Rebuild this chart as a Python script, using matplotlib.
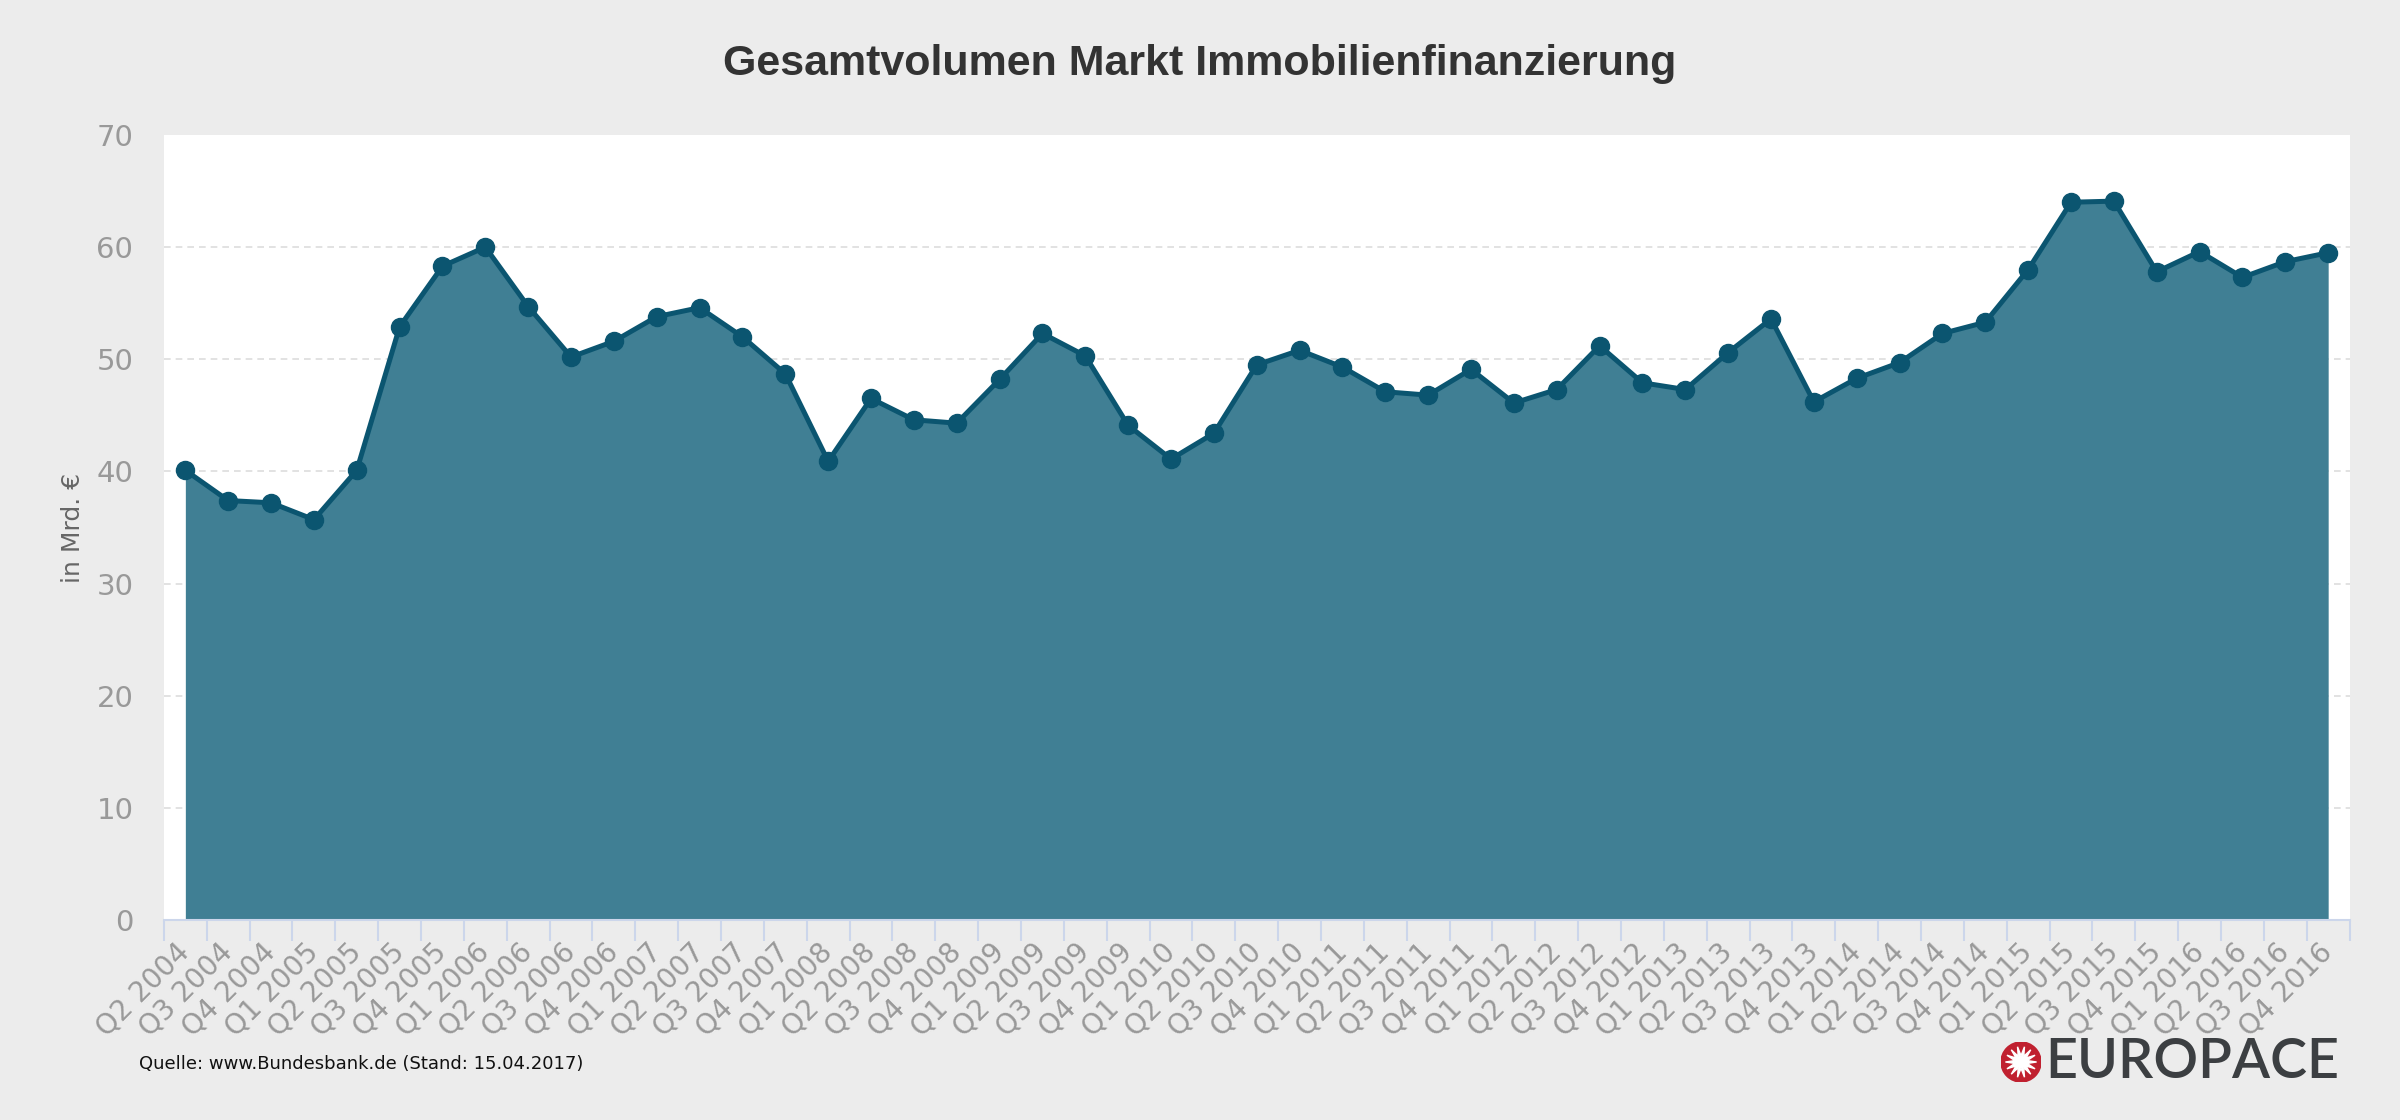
import numpy as np
import matplotlib
matplotlib.use('Agg')
import matplotlib.pyplot as plt
from matplotlib.patches import Circle, Polygon

# Data (Mrd. EUR)
quarters = ['Q2 2004', 'Q3 2004', 'Q4 2004',
            'Q1 2005', 'Q2 2005', 'Q3 2005', 'Q4 2005',
            'Q1 2006', 'Q2 2006', 'Q3 2006', 'Q4 2006',
            'Q1 2007', 'Q2 2007', 'Q3 2007', 'Q4 2007',
            'Q1 2008', 'Q2 2008', 'Q3 2008', 'Q4 2008',
            'Q1 2009', 'Q2 2009', 'Q3 2009', 'Q4 2009',
            'Q1 2010', 'Q2 2010', 'Q3 2010', 'Q4 2010',
            'Q1 2011', 'Q2 2011', 'Q3 2011', 'Q4 2011',
            'Q1 2012', 'Q2 2012', 'Q3 2012', 'Q4 2012',
            'Q1 2013', 'Q2 2013', 'Q3 2013', 'Q4 2013',
            'Q1 2014', 'Q2 2014', 'Q3 2014', 'Q4 2014',
            'Q1 2015', 'Q2 2015', 'Q3 2015', 'Q4 2015',
            'Q1 2016', 'Q2 2016', 'Q3 2016', 'Q4 2016']
volume = [40.1, 37.4, 37.2,
          35.7, 40.1, 52.9, 58.3,
          60.0, 54.7, 50.2, 51.6,
          53.8, 54.6, 52.0, 48.7,
          40.9, 46.5, 44.6, 44.3,
          48.2, 52.3, 50.3, 44.1,
          41.1, 43.4, 49.5, 50.8,
          49.3, 47.1, 46.8, 49.1,
          46.1, 47.3, 51.2, 47.9,
          47.3, 50.6, 53.6, 46.2,
          48.3, 49.7, 52.3, 53.3,
          58.0, 64.0, 64.1, 57.8,
          59.6, 57.3, 58.7, 59.5]
y_ticks = [0, 10, 20, 30, 40, 50, 60, 70]

bg = '#ececec'
fill_col = '#407f94'
line_col = '#0b5570'
tick_col = '#999999'

fig = plt.figure(figsize=(24, 11.2), dpi=100, facecolor=bg)
ax = fig.add_axes([0.0683, 0.1786, 0.9107, 0.7009])
ax.set_facecolor('white')

x = np.arange(len(quarters))
ax.fill_between(x, 0, volume, color=fill_col, linewidth=0, zorder=2)
ax.plot(x, volume, color=line_col, linewidth=3.6, marker='o', markersize=13,
        zorder=3, solid_joinstyle='round')

ax.set_xlim(-0.5, len(quarters) - 0.5)
ax.set_ylim(0, 70)

# grid
ax.set_yticks(y_ticks)
ax.set_yticklabels([str(v) for v in y_ticks])
for v in y_ticks[1:-1]:
    ax.axhline(v, color='#dddddd', linewidth=1.2, linestyle=(0, (4, 3)), zorder=1)

for s in ['top', 'right', 'left']:
    ax.spines[s].set_visible(False)
ax.spines['bottom'].set_color('#ccd6eb')
ax.spines['bottom'].set_linewidth(1.5)
ax.spines['bottom'].set_zorder(4)

ax.tick_params(axis='y', length=0, pad=22, labelsize=21, labelcolor=tick_col)
ax.set_xticks(x)
ax.set_xticklabels(quarters, rotation=45, ha='right', va='center',
                   rotation_mode='anchor')
ax.set_xticks(np.arange(-0.5, len(quarters)), minor=True)
ax.tick_params(axis='x', which='major', length=0, pad=20, labelsize=20,
               labelcolor=tick_col)
ax.tick_params(axis='x', which='minor', length=15, width=1.5, color='#ccd6eb')

ax.set_ylabel('in Mrd. €', fontsize=18, color='#666666', labelpad=8)

fig.text(0.5, 0.943, 'Gesamtvolumen Markt Immobilienfinanzierung',
         ha='center', va='center', fontsize=31, fontweight='bold',
         color='#333333', family='Liberation Sans')

fig.text(0.058, 0.050, 'Quelle: www.Bundesbank.de (Stand: 15.04.2017)',
         ha='left', va='center', fontsize=13, color='#111111')

# Logo
lax = fig.add_axes([2001 / 2400, 38 / 1120, 40 / 2400, 40 / 1120])
lax.set_xlim(-1, 1)
lax.set_ylim(-1, 1)
lax.set_aspect('equal')
lax.axis('off')
lax.add_patch(Circle((0, 0), 1, color='#c0202f'))
n = 14
ang = np.linspace(0, 2 * np.pi, 2 * n, endpoint=False)
rad = np.where(np.arange(2 * n) % 2 == 0, 0.78, 0.32)
lax.add_patch(Polygon(np.column_stack([rad * np.cos(ang), rad * np.sin(ang)]),
                      closed=True, color='white'))

fig.text(2045 / 2400, 1 - 1062 / 1120, 'EUROPACE', ha='left', va='center',
         fontsize=40, color='#3c3f42', family='Lato', fontweight='semibold')

fig.savefig('out.png', dpi=100, facecolor=bg)
